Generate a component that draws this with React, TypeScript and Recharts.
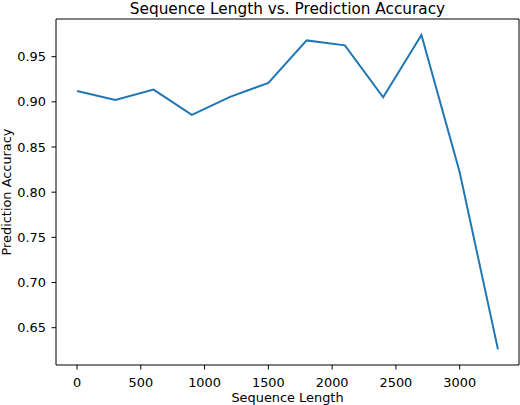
import { Line, LineChart, ReferenceLine, XAxis, YAxis } from "recharts";

const seqLengths = [0, 300, 600, 900, 1200, 1500, 1800, 2100, 2400, 2700, 3000, 3300];
const accuracy = [0.912, 0.902, 0.9135, 0.8855, 0.9055, 0.921, 0.968, 0.9625, 0.905, 0.974, 0.822, 0.626];
const xTicks = [0, 500, 1000, 1500, 2000, 2500, 3000];
const yTicks = [0.65, 0.7, 0.75, 0.8, 0.85, 0.9, 0.95];

const X_DOMAIN: [number, number] = [-165, 3465];
const Y_DOMAIN: [number, number] = [0.6087, 0.9917];

const FONT = "'DejaVu Sans', sans-serif";
const INK = "#000";

export default function App() {
  const data = seqLengths.map((x, i) => ({ x, acc: accuracy[i] }));

  return (
    <div style={{ position: "absolute", left: 0, top: 0, background: "#fff" }}>
      <LineChart
        width={520}
        height={405}
        data={data}
        margin={{ top: 19, right: 1, bottom: 0, left: 0 }}
        style={{ fontFamily: FONT }}
      >
        <XAxis
          dataKey="x"
          type="number"
          domain={X_DOMAIN}
          ticks={xTicks}
          allowDataOverflow
          height={40}
          stroke={INK}
          tick={{ fill: INK, fontSize: 12.9 }}
          tickSize={4.5}
          tickMargin={8}
          label={{
            content: ({ viewBox }: any) => (
              <text
                x={viewBox.x + viewBox.width / 2}
                y={402}
                textAnchor="middle"
                fontSize={12.9}
                fill={INK}
              >
                Sequence Length
              </text>
            ),
          }}
        />
        <YAxis
          type="number"
          domain={Y_DOMAIN}
          ticks={yTicks}
          allowDataOverflow
          width={56}
          stroke={INK}
          tick={{ fill: INK, fontSize: 12.9 }}
          tickSize={4.5}
          tickMargin={5.5}
          tickFormatter={(v: number) => v.toFixed(2)}
          label={{
            content: ({ viewBox }: any) => {
              const cx = 11;
              const cy = viewBox.y + viewBox.height / 2;
              return (
                <text
                  x={cx}
                  y={cy}
                  transform={`rotate(-90, ${cx}, ${cy})`}
                  textAnchor="middle"
                  fontSize={12.9}
                  fill={INK}
                >
                  Prediction Accuracy
                </text>
              );
            },
          }}
        />
        {/* top spine, carries the title */}
        <ReferenceLine
          y={Y_DOMAIN[1]}
          stroke={INK}
          label={{
            content: ({ viewBox }: any) => (
              <text
                x={viewBox.x + viewBox.width / 2}
                y={13.5}
                textAnchor="middle"
                fontSize={15.3}
                fill={INK}
                fontFamily={FONT}
              >
                Sequence Length vs. Prediction Accuracy
              </text>
            ),
          }}
        />
        {/* right spine */}
        <ReferenceLine x={X_DOMAIN[1]} stroke={INK} />
        <Line
          dataKey="acc"
          stroke="#1f77b4"
          strokeWidth={2}
          dot={false}
          activeDot={false}
          isAnimationActive={false}
        />
      </LineChart>
    </div>
  );
}
